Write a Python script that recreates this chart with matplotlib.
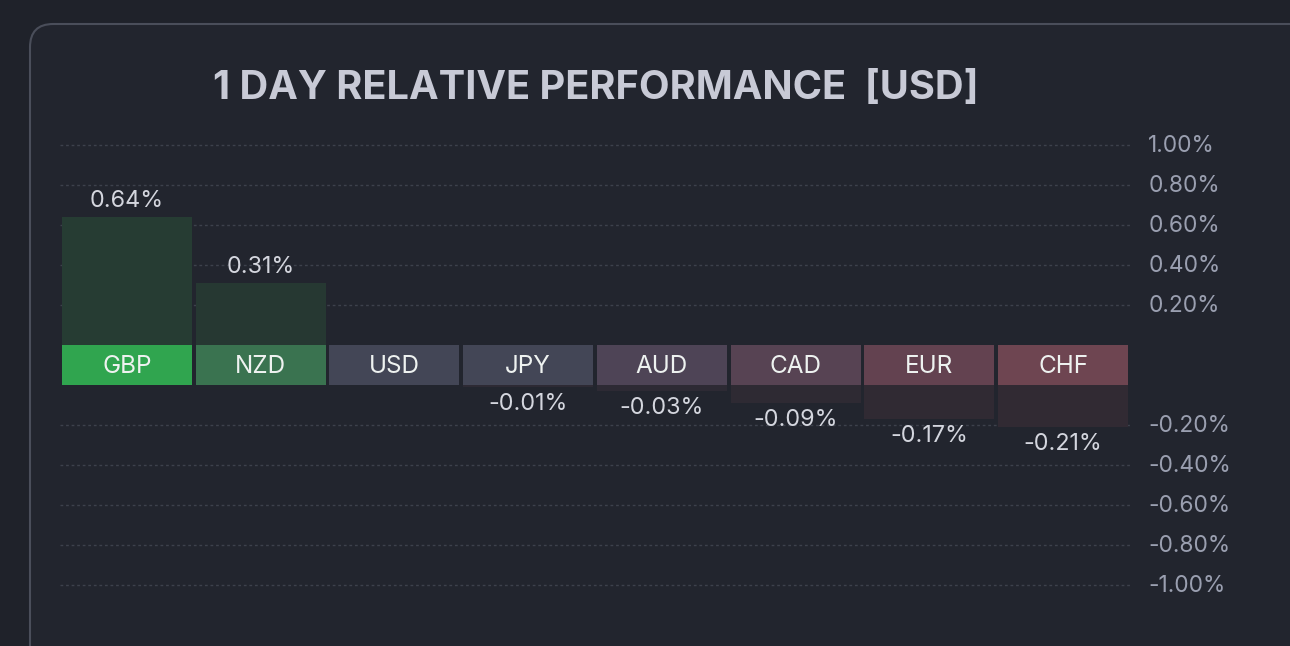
import matplotlib.pyplot as plt
from matplotlib.patches import FancyBboxPatch
from matplotlib.transforms import offset_copy

currencies = ["GBP", "NZD", "USD", "JPY", "AUD", "CAD", "EUR", "CHF"]
changes = [0.64, 0.31, 0.00, -0.01, -0.03, -0.09, -0.17, -0.21]
band_colors = ["#30a54f", "#3a7350", "#434656", "#434656", "#4e4456",
               "#574353", "#634250", "#6e4551"]
body_colors = ["#263c33", "#263832", "#25272f", "#2d2a34", "#2d2a34",
               "#2e2a33", "#302a33", "#312a33"]
tick_values = [1.0, 0.8, 0.6, 0.4, 0.2, -0.2, -0.4, -0.6, -0.8, -1.0]

W, H = 1290, 646
BAND = 0.2  # height of the label strip, in % units

plt.rcParams['font.family'] = ['Inter', 'DejaVu Sans']
fig = plt.figure(figsize=(W / 100, H / 100), dpi=100)
fig.patch.set_facecolor("#1f222a")

panel = FancyBboxPatch((30 / W, -0.1), (W + 20) / W, (H - 24) / H + 0.1,
                       boxstyle="round,pad=0,rounding_size=0.018",
                       transform=fig.transFigure, facecolor="#22252e",
                       edgecolor="#4a4e5a", linewidth=1.5, mutation_aspect=W / H,
                       zorder=-5)
fig.patches.append(panel)

# axes placed so that 0 sits at pixel 385 and 1% spans 200 px
top_px, bot_px = 130, 600
ax = fig.add_axes([60 / W, 1 - bot_px / H, 1070 / W, (bot_px - top_px) / H])
ax.set_zorder(2)
ax.set_facecolor("none")
ax.set_xlim(-0.5, 7.5)
ax.set_ylim(-(bot_px - 385) / 200, (385 - top_px) / 200)
for s in ax.spines.values():
    s.set_visible(False)
ax.set_xticks([])
ax.set_yticks([])

down2 = offset_copy(ax.get_yaxis_transform(), fig=fig, y=-1.5, units="dots")
down2d = offset_copy(ax.transData, fig=fig, y=-1.5, units="dots")

# grid lines (positive ones are shifted up by the band)
for t in tick_values:
    y = t + BAND if t > 0 else t
    ax.axhline(y, color="#3d414c", lw=1, ls=(0, (2, 2)), zorder=0)
    ax.text(1.017, y, f"{t:.2f}%", transform=down2,
            ha="left", va="center", fontsize=16.4, color="#9a9fb0")

x = list(range(len(currencies)))
w = 0.972
ax.bar(x, [BAND] * len(x), bottom=0, width=w, color=band_colors, zorder=2)
for i, (c, v) in enumerate(zip(currencies, changes)):
    ax.text(i, BAND / 2, c, ha="center", va="center", fontsize=17.5,
            color="#eef2f0", zorder=3, transform=down2d)
    if v > 0:
        ax.bar(i, v, bottom=BAND, width=w, color=body_colors[i], zorder=1)
        ax.text(i, BAND + v + 0.08, f"{v:.2f}%", ha="center", va="center",
                fontsize=16.8, color="#d4d6de")
    elif v < 0:
        ax.bar(i, v, bottom=0, width=w, color=body_colors[i], zorder=1)
        ax.text(i, v - 0.085, f"{v:.2f}%", ha="center", va="center",
                fontsize=16.8, color="#d4d6de")

fig.text(596 / W, 1 - 88 / H, "1 DAY RELATIVE PERFORMANCE  [USD]",
         ha="center", va="center", fontsize=28.6, fontweight="bold",
         color="#c8cad6")

fig.savefig("out.png", dpi=100, facecolor=fig.get_facecolor())
